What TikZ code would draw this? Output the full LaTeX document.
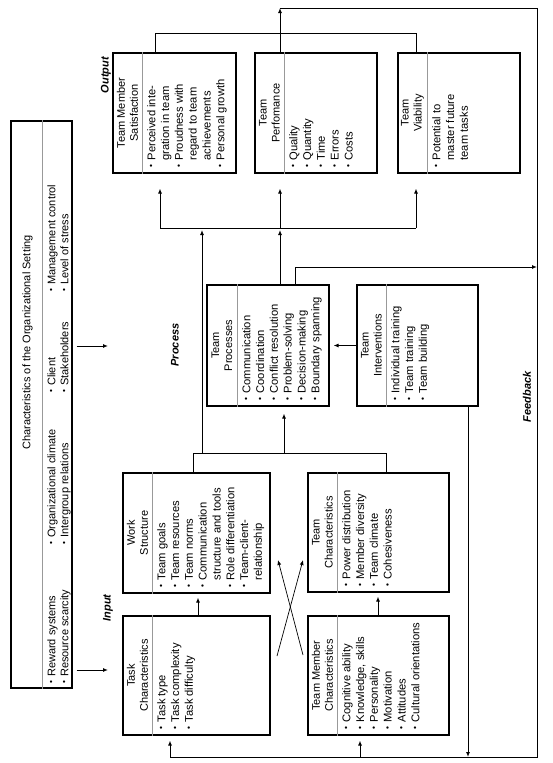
\documentclass[tikz,border=0pt]{standalone}
\usepackage{fontspec}
\setmainfont{Liberation Sans}
\usepackage{graphicx}
\usetikzlibrary{arrows.meta,calc}
\newcommand{\bxfont}{\fontsize{11.2}{13.8}\selectfont}
\newcommand{\ttfontx}{\fontsize{11}{13}\selectfont}
\newcommand{\bul}{\raisebox{0.12em}{\scalebox{0.75}{\textbullet}}}
\newcommand{\itm}[1]{\bul & #1\\}
\newcommand{\cnt}[1]{& #1\\}
\newcommand{\blist}[1]{\begin{tabular}{@{}l@{\hspace{4pt}}l@{}}#1\end{tabular}}
\tikzset{
  box/.style={draw, line width=1.1pt, inner sep=0pt},
  div/.style={draw=gray!80, line width=0.8pt},
  ttl/.style={rotate=90, align=center, font=\ttfontx, inner sep=0pt},
  lst/.style={rotate=90, anchor=north west, font=\bxfont, inner sep=0pt},
  lbl/.style={rotate=90, font=\fontsize{11}{13}\selectfont\bfseries\itshape, inner sep=0pt},
  conn/.style={line width=1pt},
  arr/.style={conn, -{Latex[length=5pt,width=4pt]}},
}
\newcommand{\RBox}[8]{%
  \node[box, minimum width=#4pt, minimum height=#5pt] (#1) at (#2,#3) {};
  \draw[div] ($(#1.north west)+(#6,0)$) -- ($(#1.south west)+(#6,0)$);
  \node[ttl] (#1t) at ($(#1.west)+(#6/2,0)$) {#7};
  \node[lst] (#1l) at ($(#1.south west)+(#6+3,-6)$) {\blist{#8}};
}
\begin{document}
\begin{tikzpicture}[x=1pt,y=-1pt]
\path[fill=white, use as bounding box] (0,0) rectangle (552,763);

% organizational setting
\node[box, minimum width=61pt, minimum height=567pt] (org) at (41.5,404.5) {};
\draw[div] ($(org.north west)+(32,0)$) -- ($(org.south west)+(32,0)$);
\node[ttl, anchor=west] (orgt) at (27.5,450) {Characteristics of the Organizational Setting};
\node[lst, font=\fontsize{11}{13}\selectfont] (og1) at (46,684) {\blist{\itm{Reward systems}\itm{Resource scarcity}}};
\node[lst, font=\fontsize{11}{13}\selectfont] (og2) at (46,545) {\blist{\itm{Organizational climate}\itm{Intergroup relations}}};
\node[lst, font=\fontsize{11}{13}\selectfont] (og3) at (46,393) {\blist{\itm{Client}\itm{Stakeholders}}};
\node[lst, font=\fontsize{11}{13}\selectfont] (og4) at (46,292) {\blist{\itm{Management control}\itm{Level of stress}}};

% boxes
\RBox{tms}{174.5}{113}{123}{120}{30}{Team Member\\Satisfaction}{\itm{Perceived inte-}\cnt{gration in team}\itm{Proudness with}\cnt{regard to team}\cnt{achievements}\itm{Personal growth}}
\RBox{tperf}{316}{113}{122}{120}{30}{Team\\Perfomance}{\itm{Quality}\itm{Quantity}\itm{Time}\itm{Errors}\itm{Costs}}
\RBox{tvia}{459}{113}{122}{120}{30}{Team\\Viability}{\itm{Potential to}\cnt{master future}\cnt{team tasks}}
\RBox{tp}{268}{345.5}{122}{121}{31}{Team\\Processes}{\itm{Communication}\itm{Coordination}\itm{Conflict resolution}\itm{Problem-solving}\itm{Decision-making}\itm{Boundary spanning}}
\RBox{ti}{417.5}{345.5}{121}{121}{30}{Team\\Interventions}{\itm{Individual training}\itm{Team training}\itm{Team building}}
\RBox{ws}{196.5}{533}{147}{120}{30}{Work\\Structure}{\itm{Team goals}\itm{Team resources}\itm{Team norms}\itm{Communication}\cnt{structure and tools}\itm{Role differentiation}\itm{Team-client-}\cnt{relationship}}
\RBox{task}{196.5}{675.5}{147}{119}{30}{Task\\Characteristics}{\itm{Task type}\itm{Task complexity}\itm{Task difficulty}}
\RBox{tch}{378.5}{532.5}{141}{119}{30}{Team\\Characteristics}{\itm{Power distribution}\itm{Member diversity}\itm{Team climate}\itm{Cohesiveness}}
\RBox{tmc}{378.5}{675.5}{141}{119}{30}{Team Member\\Characteristics}{\itm{Cognitive ability}\itm{Knowledge, skills}\itm{Personality}\itm{Motivation}\itm{Attitudes}\itm{Cultural orientations}}

% labels
\node[lbl] (lout) at (106,75) {Output};
\node[lbl] (lproc) at (175,345) {Process};
\node[lbl] (lin) at (108,608) {Input};
\node[lbl] (lfb) at (527,397) {Feedback};

% coordinates
\coordinate (oL) at (155,33);
\coordinate (oM) at (280,33);
\coordinate (oR) at (416,33);
\coordinate (fTL) at (280,8);
\coordinate (fTR) at (537,8);
\coordinate (fBR) at (537,757);
\coordinate (fBL) at (170,757);
\coordinate (fBM) at (360,757);
\coordinate (pL) at (160,228);
\coordinate (pM) at (280,228);
\coordinate (pR) at (416,228);
\coordinate (iB) at (202,453);
\coordinate (tpF) at (295,267);
\coordinate (tiD) at (468,757);
\coordinate (iL) at (193,453);
\coordinate (iR) at (386,453);
\coordinate (iM) at (284,453);
\coordinate (twx) at (198,605);
\coordinate (ttx) at (378,605);
\coordinate (x1s) at (277,656);
\coordinate (x1e) at (303,560);
\coordinate (x2s) at (303,655);
\coordinate (x2e) at (278,560);
\coordinate (oA) at (108,346);
\coordinate (oB) at (108,670);

% output combination and feedback
\draw[conn] (tms.north -| oL) -- (oL) -- (oR) -- (tvia.north -| oR);
\draw[conn] (tperf.north -| oM) -- (oM);
\draw[arr] (oM) -- (fTL);
\draw[conn] (fTL) -- (fTR) -- (fBR) -- (fBL);
\draw[arr, shorten >=5pt] (fBL) -- (task.south -| fBL);
\draw[arr, shorten >=5pt] (fBM) -- (tmc.south -| fBM);

% process to outputs
\draw[conn] (pL) -- (pR);
\draw[arr, shorten >=15pt] (pL) -- (tms.south -| pL);
\draw[arr, shorten >=15pt] (pM) -- (tperf.south -| pM);
\draw[arr, shorten >=15pt] (pR) -- (tvia.south -| pR);
\draw[arr, shorten >=2pt] (tp.north -| pM) -- (pM);
\draw[arr, shorten >=2pt] (iB) -- (iB |- pM);

% processes to feedback
\draw[conn] (tp.north -| tpF) -- (tpF);
\draw[arr] (tpF) -- (tpF -| fBR);

% interventions
\draw[arr, shorten >=4pt] (ti.west) -- (tp.east);
\draw[arr] (ti.south -| tiD) -- (tiD);

% inputs
\draw[conn] (ws.north -| iL) -- (iL) -- (iR) -- (tch.north -| iR);
\draw[arr, shorten >=7pt] (iM) -- (tp.south -| iM);
\draw[arr, shorten >=4pt] (task.north -| twx) -- (ws.south -| twx);
\draw[arr, shorten >=4pt] (tmc.north -| ttx) -- (tch.south -| ttx);
\draw[arr, line width=0.7pt] (x1s) -- (x1e);
\draw[arr, line width=0.7pt] (x2s) -- (x2e);

% organizational setting arrows
\draw[arr, shorten <=4pt] (org.east |- oA) -- (oA);
\draw[arr, shorten <=4pt] (org.east |- oB) -- (oB);
\end{tikzpicture}
\end{document}
